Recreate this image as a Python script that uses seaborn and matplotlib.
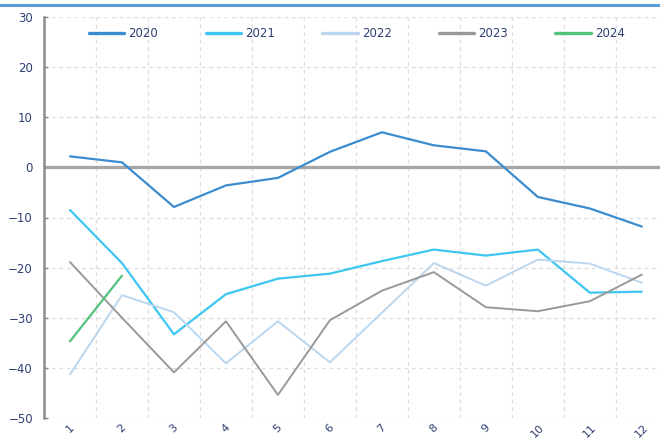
import numpy as np
import pandas as pd
import matplotlib
matplotlib.use("Agg")
import matplotlib.pyplot as plt
import seaborn as sns
from matplotlib.lines import Line2D

months = ["1", "2", "3", "4", "5", "6", "7", "8", "9", "10", "11", "12"]
y2020 = [2.2, 1.0, -7.9, -3.6, -2.1, 3.1, 7.0, 4.4, 3.2, -5.9, -8.2, -11.8]
y2021 = [-8.5, -19.1, -33.3, -25.3, -22.2, -21.2, -18.7, -16.4, -17.6, -16.4, -25.0, -24.8]
y2022 = [-41.3, -25.5, -28.9, -39.1, -30.7, -38.9, -29.0, -19.1, -23.6, -18.4, -19.2, -23.0]
y2023 = [-18.9, -30.0, -40.9, -30.7, -45.4, -30.5, -24.6, -20.9, -27.9, -28.7, -26.7, -21.4]
y2024 = [-34.7, -21.6]
series = {"2020": y2020, "2021": y2021, "2022": y2022, "2023": y2023, "2024": y2024}
colors = {"2020": "#3B8CCE", "2021": "#3EC6F2", "2022": "#BCD6EE", "2023": "#999999", "2024": "#52C27C"}
widths = {"2020": 1.6, "2021": 1.6, "2022": 1.4, "2023": 1.4, "2024": 1.6}

rows = []
for name, vals in series.items():
    for i, v in enumerate(vals):
        rows.append({"idx": i, "value": v, "year": name})
df = pd.DataFrame(rows)

sns.set_style("white")
plt.rcParams["font.family"] = ["DejaVu Sans"]

fig = plt.figure(figsize=(6.6, 4.45), dpi=100)
ax = fig.add_axes([44/660, 27/445, 1 - 44/660, (418-17)/445])

for name in series:
    sub = df[df["year"] == name]
    sns.lineplot(data=sub, x="idx", y="value", color=colors[name], lw=widths[name], ax=ax, legend=False)

ax.axhline(0, color="#A6A6A6", lw=2.4, zorder=1)

ax.set_xlim(-0.5, 11.35)
ax.set_ylim(-50, 30)
ax.set_yticks(range(-50, 31, 10))
ax.set_xticks(range(12))
ax.set_xticklabels(months, rotation=45, ha="center", va="top")
ax.set_xticks(np.arange(0.5, 11.5, 1), minor=True)
ax.grid(False)
ax.yaxis.grid(True, linestyle=(0, (3, 3)), color="#DDDDDD", lw=0.9)
ax.xaxis.grid(True, which="minor", linestyle=(0, (3, 3)), color="#DDDDDD", lw=0.9)
ax.set_axisbelow(True)
ax.tick_params(axis="x", which="both", length=0, labelsize=8, labelcolor="#2E3F72", pad=3)
ax.tick_params(axis="y", direction="in", length=3, width=1, color="#888888", labelsize=8.5,
               labelcolor="#2E3F72", pad=8, left=True)
ax.set_xlabel("")
ax.set_ylabel("")
for s in ["top", "right", "bottom"]:
    ax.spines[s].set_visible(False)
ax.spines["left"].set_color("#8C8C8C")
ax.spines["left"].set_linewidth(1.8)

handles = [Line2D([0], [0], color=colors[n], lw=2.4) for n in series]
leg = fig.legend(handles, list(series.keys()), loc="upper left", bbox_to_anchor=(89/660, 1 - 27/445),
                 bbox_transform=fig.transFigure, ncol=5, frameon=False, fontsize=8.5,
                 handlelength=3.0, handletextpad=0.35, columnspacing=4.0, borderpad=0, borderaxespad=0)
for t in leg.get_texts():
    t.set_color("#2E3F72")

fig.add_artist(Line2D([0, 1], [1 - 5/445, 1 - 5/445], color="#5B9BD5", lw=2.2, transform=fig.transFigure))

fig.savefig("out.png", dpi=100)
